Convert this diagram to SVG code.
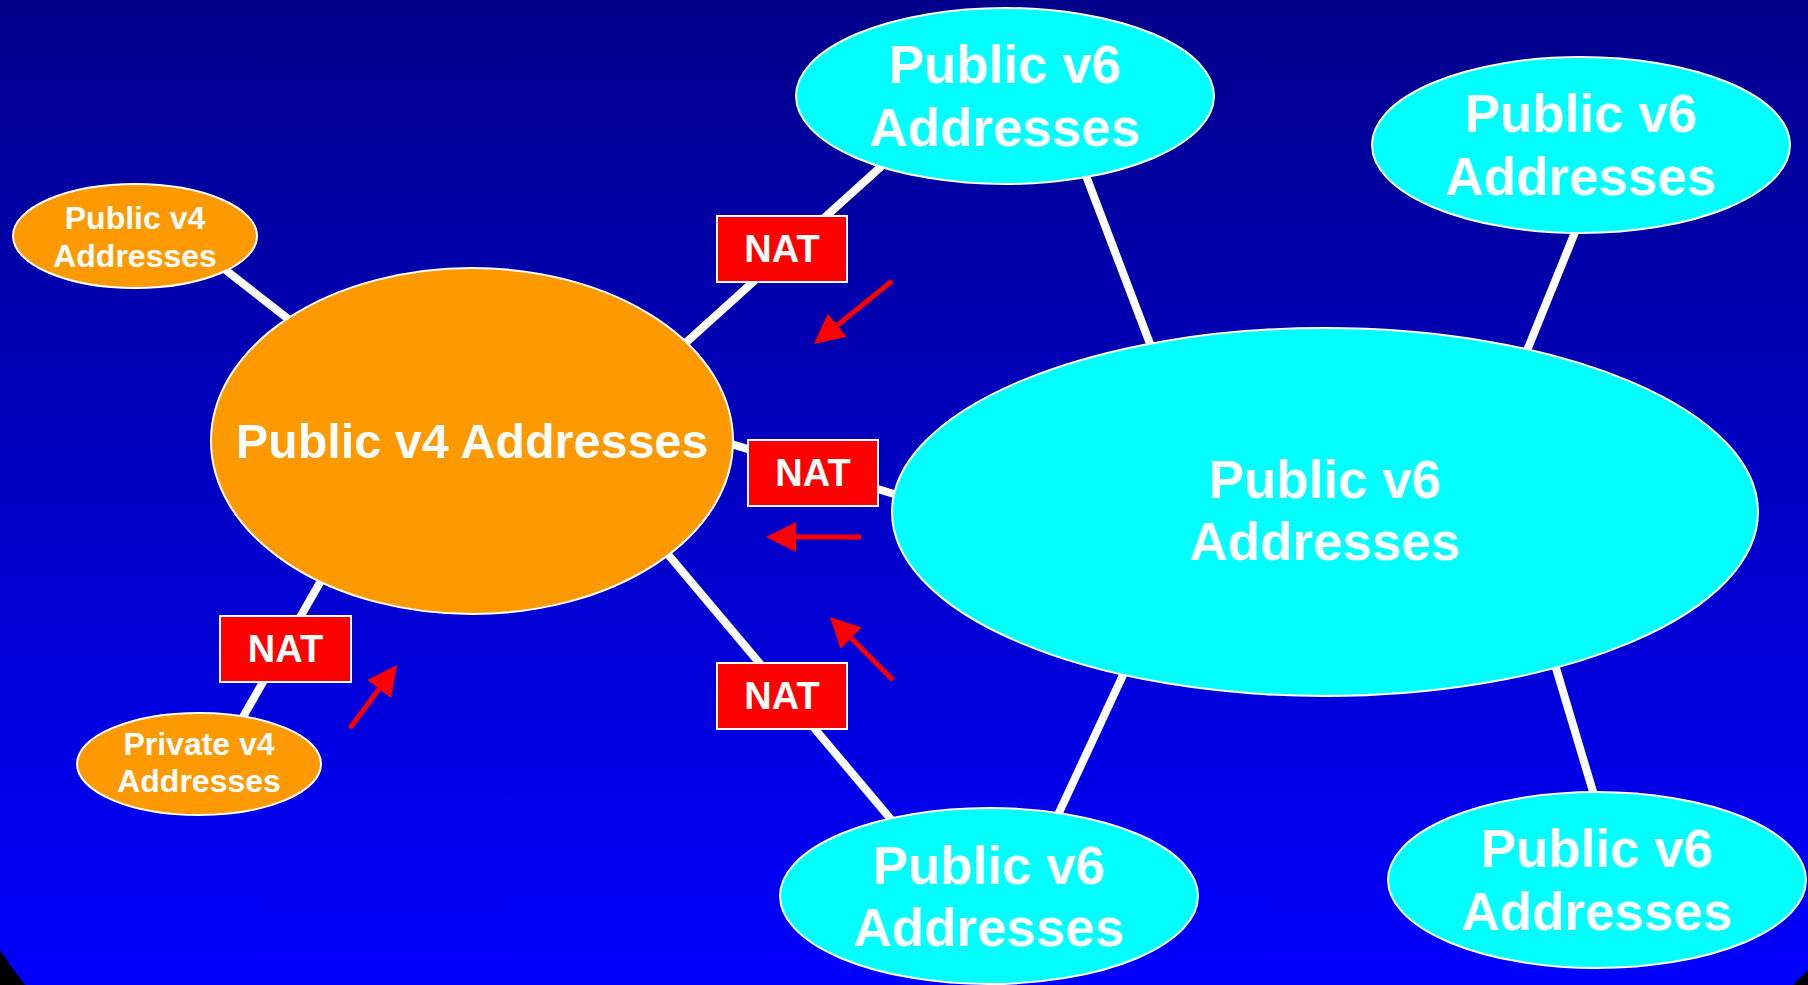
<svg xmlns="http://www.w3.org/2000/svg" width="1808" height="985" viewBox="0 0 1808 985">
<defs>
<linearGradient id="bg" x1="0" y1="0" x2="0" y2="1">
<stop offset="0" stop-color="#00008a"/>
<stop offset="1" stop-color="#0000ff"/>
</linearGradient>
<marker id="ah" viewBox="0 0 30 30" markerWidth="30" markerHeight="30" refX="0" refY="15" orient="auto" markerUnits="userSpaceOnUse">
<path d="M0,0 L30,15 L0,30 z" fill="#ff0000"/>
</marker>
<style>
.conn{stroke:#ffffff;stroke-width:8;fill:none}
.arr{stroke:#ff0000;stroke-width:5;fill:none;marker-end:url(#ah)}
.v6{fill:#00ffff;stroke:#ffffff;stroke-width:2}
.v4{fill:#ff9900;stroke:#ffffff;stroke-width:2}
.nat{fill:#ff0000;stroke:#ffffff;stroke-width:2}
text{font-family:"Liberation Sans",Arial,Helvetica,sans-serif;font-weight:bold;fill:#ffffff;text-anchor:middle}
.big{font-size:53px}
.sm{font-size:32px}
.nt{font-size:38px}
</style>
</defs>
<rect x="0" y="0" width="1808" height="985" fill="url(#bg)"/>
<path d="M0,950 Q12,968 25,985 L0,985 z" fill="#000000"/>
<path d="M1808,970 Q1800,978 1793,985 L1808,985 z" fill="#000000"/>
<g id="connectors">
<line class="conn" x1="200" y1="250" x2="310" y2="336"/>
<line class="conn" x1="660" y1="366" x2="905" y2="145"/>
<line class="conn" x1="715" y1="439" x2="920" y2="502"/>
<line class="conn" x1="330" y1="565" x2="235" y2="731"/>
<line class="conn" x1="650" y1="533" x2="910" y2="842"/>
<line class="conn" x1="1080" y1="160" x2="1160" y2="370"/>
<line class="conn" x1="1582" y1="215" x2="1515" y2="380"/>
<line class="conn" x1="1050" y1="832" x2="1130" y2="660"/>
<line class="conn" x1="1600" y1="815" x2="1550" y2="648"/>
</g>
<g id="v6-top">
<ellipse class="v6" cx="1005" cy="96" rx="209" ry="88"/>
<text class="big" x="1005" y="83">Public v6</text>
<text class="big" x="1005" y="146">Addresses</text>
</g>
<g id="v6-topright">
<ellipse class="v6" cx="1581" cy="145" rx="209" ry="88"/>
<text class="big" x="1581" y="132">Public v6</text>
<text class="big" x="1581" y="195">Addresses</text>
</g>
<g id="v6-center">
<ellipse class="v6" cx="1325" cy="512" rx="433" ry="184"/>
<text class="big" x="1325" y="498">Public v6</text>
<text class="big" x="1325" y="560">Addresses</text>
</g>
<g id="v6-bottom">
<ellipse class="v6" cx="989" cy="896" rx="209" ry="88"/>
<text class="big" x="989" y="884">Public v6</text>
<text class="big" x="989" y="946">Addresses</text>
</g>
<g id="v6-bottomright">
<ellipse class="v6" cx="1597" cy="880" rx="209" ry="88"/>
<text class="big" x="1597" y="867">Public v6</text>
<text class="big" x="1597" y="930">Addresses</text>
</g>
<g id="v4-center">
<ellipse class="v4" cx="472" cy="441" rx="261" ry="173"/>
<text x="472" y="458" font-size="48.5">Public v4 Addresses</text>
</g>
<g id="v4-small">
<ellipse class="v4" cx="135" cy="236" rx="122" ry="52"/>
<text class="sm" x="135" y="229">Public v4</text>
<text class="sm" x="135" y="267">Addresses</text>
</g>
<g id="v4-private">
<ellipse class="v4" cx="199" cy="764" rx="122" ry="51"/>
<text class="sm" x="199" y="755">Private v4</text>
<text class="sm" x="199" y="792">Addresses</text>
</g>
<g id="nat1">
<rect class="nat" x="717" y="216" width="130" height="66"/>
<text class="nt" x="782" y="262">NAT</text>
</g>
<g id="nat2">
<rect class="nat" x="748" y="440" width="130" height="66"/>
<text class="nt" x="813" y="486">NAT</text>
</g>
<g id="nat3">
<rect class="nat" x="220" y="616" width="131" height="66"/>
<text class="nt" x="285.5" y="662">NAT</text>
</g>
<g id="nat4">
<rect class="nat" x="717" y="663" width="130" height="66"/>
<text class="nt" x="782" y="709">NAT</text>
</g>
<g id="arrows">
<line class="arr" x1="892" y1="281" x2="837.3" y2="325.2"/>
<line class="arr" x1="861" y1="537" x2="796" y2="537"/>
<line class="arr" x1="893" y1="680" x2="851.2" y2="638.2"/>
<line class="arr" x1="350" y1="728" x2="379.1" y2="689"/>
</g>
</svg>
